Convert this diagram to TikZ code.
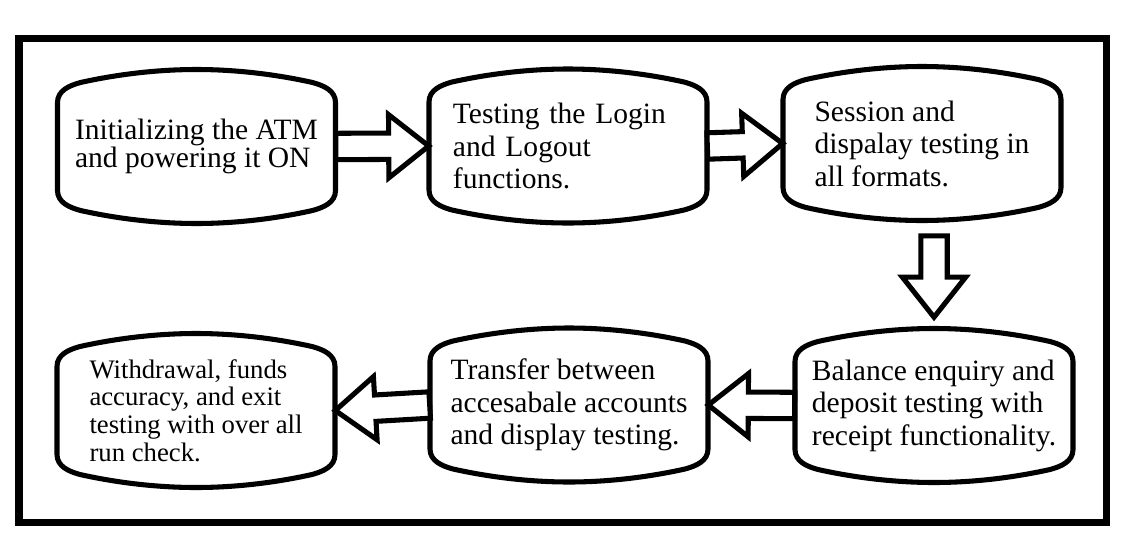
\documentclass[tikz,border=0pt]{standalone}
\usepackage{fontspec}
\setmainfont{Liberation Serif}
\usetikzlibrary{calc}

% ---------- 带弧形上下边的框 ----------
\newcommand{\boxoutline}[1]{%
  \draw[boxline, shift={(#1.center)}]
    (-139,-44) -- (-139,44)
    .. controls (-139,56) and (-127,61) .. (-116,64)
    .. controls (-80,72) and (-40,77) .. (0,77)
    .. controls (40,77) and (80,72) .. (116,64)
    .. controls (127,61) and (139,56) .. (139,44)
    -- (139,-44)
    .. controls (139,-56) and (127,-61) .. (116,-64)
    .. controls (80,-72) and (40,-77) .. (0,-77)
    .. controls (-40,-77) and (-80,-72) .. (-116,-64)
    .. controls (-127,-61) and (-139,-56) .. (-139,-44) -- cycle;}

% ---------- 空心块箭头：#1 起点，#2 箭尖 ----------
\newcommand{\blockarrow}[2]{%
  \coordinate (hb) at ($(#2)!1cm!(#1)$);
  \draw[arrowline]
    ($(#1)!0.33cm!90:(#2)$) -- ($(hb)!0.33cm!-90:(#1)$)
    -- ($(hb)!0.79cm!-90:(#1)$) -- (#2)
    -- ($(hb)!0.79cm!90:(#1)$) -- ($(hb)!0.33cm!90:(#1)$)
    -- ($(#1)!0.33cm!-90:(#2)$) -- cycle;}

\begin{document}
\begin{tikzpicture}[
    x=0.025cm, y=-0.025cm,
    box/.style      = {minimum width=6.95cm, minimum height=3.85cm, align=left,
                       font=\fontsize{21}{23.1}\selectfont},
    tight/.style    = {font=\fontsize{21}{19.9}\selectfont},
    small/.style    = {font=\fontsize{19}{19.6}\selectfont},
    boxline/.style  = {line width=3.6pt, line join=round},
    arrowline/.style= {line width=3.6pt, fill=white, line join=miter},
  ]
  \useasboundingbox (0,0) rectangle (1129,553);

  % ---------- 外框 ----------
  \draw[line width=5pt] (19,38.5) rectangle (1106.5,522.5);

  % ---------- 上排 ----------
  \node[box, tight] (init)  at (196.5,146.5) {Initializing the ATM\\and powering it ON};
  \node[box, text width=5.75cm] (login) at (568,146) {Testing the Login\\and Logout\\functions.};
  \node[box] (sess)  at (922,143.5) {Session and\\dispalay testing in\\all formats.};

  % ---------- 下排 ----------
  \node[box] (bal)   at (934,405.5) {Balance enquiry and\\deposit testing with\\receipt functionality.};
  \node[box] (trans) at (569,405)   {Transfer between\\accesabale accounts\\and display testing.};
  \node[box, small] (with)  at (196,410.5) {Withdrawal, funds\\accuracy, and exit\\testing with over all\\run check.};

  \foreach \n in {init,login,sess,bal,trans,with} {\boxoutline{\n}}

  % ---------- 箭头 ----------
  \blockarrow{init.east}{login.west}
  \blockarrow{login.east}{sess.west}
  \coordinate (dtop) at ($(sess.south -| bal.north)+(0,15)$);
  \coordinate (dtip) at ($(bal.north)+(0,-11)$);
  \blockarrow{dtop}{dtip}
  \blockarrow{bal.west}{trans.east}
  \blockarrow{trans.west}{with.east}

\end{tikzpicture}
\end{document}
